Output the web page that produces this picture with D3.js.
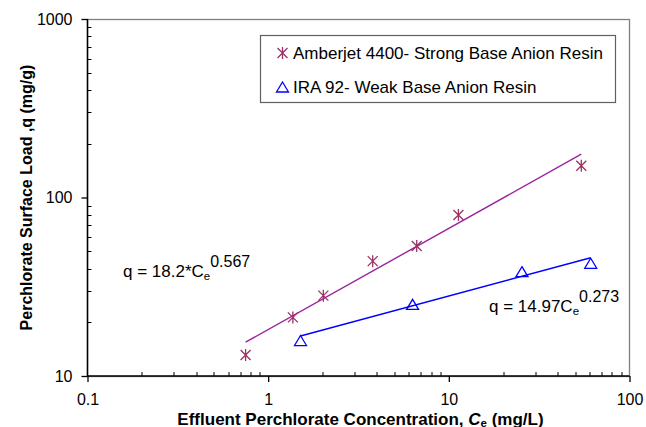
<!DOCTYPE html>
<html>
<head>
<meta charset="utf-8">
<script src="https://cdn.jsdelivr.net/npm/d3@7"></script>
<style>
  body { margin: 0; background: #fff; }
  svg text { font-family: "Liberation Sans", Arial, sans-serif; fill: #000; }
</style>
</head>
<body>
<div id="chart"></div>
<script>
// isotherm data
var amberjetCe = [0.75, 1.37, 2.02, 3.79, 6.64, 11.3, 54.1];
var amberjetQ  = [13.1, 21.3, 28.2, 44.0, 53.5, 79.8, 150.7];
var ira92Ce = [1.51, 6.3, 25.4, 61];
var ira92Q  = [15.8, 25.2, 38.4, 42.8];

// fitted Freundlich models (from the labels)
var amberjetFit = { k: 18.2, n: 0.567 };
var ira92Fit = { k: 14.97, n: 0.273 };

var xTicks = [0.1, 1, 10, 100];
var yTicks = [10, 100, 1000];
var legendLabels = ["Amberjet 4400- Strong Base Anion Resin", "IRA 92- Weak Base Anion Resin"];

var width = 646, height = 427;
var margin = { top: 19, right: 16.5, bottom: 51, left: 87.5 };
var w = width - margin.left - margin.right;
var h = height - margin.top - margin.bottom;

var starColor = "#993366", lineColor1 = "#9B239B", triColor = "#0000FF";

var svg = d3.select("#chart").append("svg")
  .attr("width", width)
  .attr("height", height);

var plot = svg.append("g")
  .attr("transform", "translate(" + margin.left + "," + margin.top + ")");

var x = d3.scaleLog().domain([0.1, 100]).range([0, w]);
var y = d3.scaleLog().domain([10, 1000]).range([h, 0]);

// plot area border (top/right grey)
plot.append("rect")
  .attr("x", 0).attr("y", 0.5)
  .attr("width", w).attr("height", h)
  .attr("fill", "none")
  .attr("stroke", "#808080")
  .attr("stroke-width", 1.3);

// minor ticks, inside
var xMinor = [], yMinor = [];
[0.1, 1, 10].forEach(function(d){ for (var i = 2; i < 10; i++) xMinor.push(d * i); });
[10, 100].forEach(function(d){ for (var i = 2; i < 10; i++) yMinor.push(d * i); });

plot.selectAll(".xminor").data(xMinor).enter().append("line")
  .attr("x1", function(d){ return Math.round(x(d)) + 0.5; })
  .attr("x2", function(d){ return Math.round(x(d)) + 0.5; })
  .attr("y1", h).attr("y2", h - 4)
  .attr("stroke", "#000");
plot.selectAll(".yminor").data(yMinor).enter().append("line")
  .attr("y1", function(d){ return Math.round(y(d)) + 0.5; })
  .attr("y2", function(d){ return Math.round(y(d)) + 0.5; })
  .attr("x1", 0).attr("x2", 4)
  .attr("stroke", "#000");

// axes with major ticks outside
var xAxis = plot.append("g")
  .attr("transform", "translate(0," + h + ")")
  .call(d3.axisBottom(x).tickValues(xTicks).tickFormat(d3.format("~g")).tickSizeOuter(0).tickSize(6).tickPadding(12));
var yAxis = plot.append("g")
  .call(d3.axisLeft(y).tickValues(yTicks).tickFormat(d3.format("~g")).tickSizeOuter(0).tickSize(6).tickPadding(9));

[xAxis, yAxis].forEach(function(a){
  a.select(".domain").attr("stroke", "#000").attr("stroke-width", 1.5);
  a.selectAll(".tick line").attr("stroke", "#000").attr("stroke-width", 1.3);
  a.selectAll("text").attr("font-size", 16).attr("font-family", "Liberation Sans, Arial, sans-serif");
});
xAxis.select(".domain").attr("d", "M0,0H" + w);
yAxis.select(".domain").attr("d", "M0,0V" + h);

// fitted lines
function fitLine(fit, xs) {
  var ext = d3.extent(xs);
  return [ext[0], ext[1]].map(function(c){ return [c, fit.k * Math.pow(c, fit.n)]; });
}
var line = d3.line().x(function(d){ return x(d[0]); }).y(function(d){ return y(d[1]); });

plot.append("path").datum(fitLine(amberjetFit, amberjetCe))
  .attr("d", line).attr("fill", "none")
  .attr("stroke", lineColor1).attr("stroke-width", 1.4);
plot.append("path").datum(fitLine(ira92Fit, ira92Ce))
  .attr("d", line).attr("fill", "none")
  .attr("stroke", triColor).attr("stroke-width", 1.4);

// markers
function starPath(s) {
  return "M" + (-s) + "," + (-s) + "L" + s + "," + s +
         "M" + (-s) + "," + s + "L" + s + "," + (-s) +
         "M0," + (-s - 1) + "L0," + (s + 1);
}
function triPath(s) {
  return "M0," + (-s) + "L" + (s + 1) + "," + s + "L" + (-s - 1) + "," + s + "Z";
}

plot.selectAll(".star").data(d3.zip(amberjetCe, amberjetQ)).enter().append("path")
  .attr("transform", function(d){ return "translate(" + x(d[0]) + "," + y(d[1]) + ")"; })
  .attr("d", starPath(5))
  .attr("fill", "none").attr("stroke", starColor).attr("stroke-width", 1.3);

plot.selectAll(".tri").data(d3.zip(ira92Ce, ira92Q)).enter().append("path")
  .attr("transform", function(d){ return "translate(" + x(d[0]) + "," + y(d[1]) + ")"; })
  .attr("d", triPath(5))
  .attr("fill", "none").attr("stroke", triColor).attr("stroke-width", 1.3);

// legend
var legend = svg.append("g").attr("transform", "translate(260.5,35.5)");
legend.append("rect")
  .attr("width", 355).attr("height", 67)
  .attr("fill", "#fff").attr("stroke", "#606060").attr("stroke-width", 1.2);
var items = legend.selectAll(".item").data(legendLabels).enter().append("g")
  .attr("transform", function(d, i){ return "translate(22," + (17.5 + i * 34) + ")"; });
items.append("path")
  .attr("d", function(d, i){ return i === 0 ? starPath(5) : triPath(5); })
  .attr("fill", "none")
  .attr("stroke", function(d, i){ return i === 0 ? starColor : triColor; })
  .attr("stroke-width", 1.3);
items.append("text")
  .attr("x", 10.5).attr("y", 6)
  .attr("font-size", 17)
  .text(function(d){ return d; });

// equation labels
function equation(xp, yp, pre, sup) {
  var t = svg.append("text").attr("x", xp).attr("y", yp).attr("font-size", 17);
  t.append("tspan").text(pre);
  t.append("tspan").attr("font-size", 11.5).attr("dy", 3).text("e");
  t.append("tspan").attr("font-size", 16).attr("dy", -13).text(sup);
}
equation(123, 277, "q = 18.2*C", amberjetFit.n.toFixed(3));
equation(489, 312, "q = 14.97C", ira92Fit.n.toFixed(3));

// axis titles
var xt = svg.append("text")
  .attr("x", margin.left + w / 2 + 2).attr("y", 424.5)
  .attr("text-anchor", "middle")
  .attr("font-size", 17).attr("font-weight", "bold");
xt.append("tspan").text("Effluent Perchlorate Concentration, ");
xt.append("tspan").attr("font-style", "italic").text("C");
xt.append("tspan").attr("font-size", 11.5).attr("dy", 2).text("e");
xt.append("tspan").attr("dy", -2).text(" (mg/L)");

svg.append("text")
  .attr("transform", "translate(32," + (margin.top + h / 2) + ") rotate(-90)")
  .attr("text-anchor", "middle")
  .attr("font-size", 16).attr("font-weight", "bold")
  .text("Perchlorate Surface Load ,q (mg/g)");
</script>
</body>
</html>
